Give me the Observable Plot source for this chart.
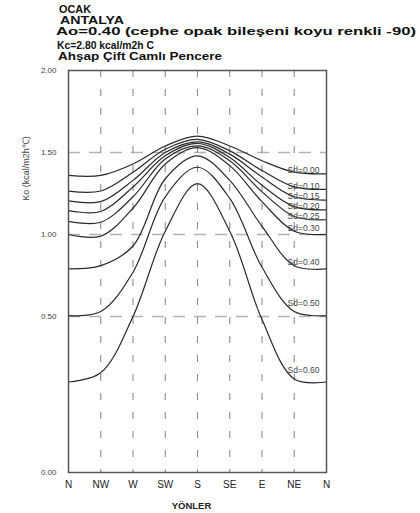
<!DOCTYPE html>
<html><head><meta charset="utf-8">
<script src="https://cdn.jsdelivr.net/npm/d3@7"></script>
<script src="https://cdn.jsdelivr.net/npm/@observablehq/plot@0.6"></script>
<style>
body{margin:0;background:#fff;font-family:"Liberation Sans",Arial,sans-serif;}
#wrap{position:relative;width:420px;height:513px;overflow:hidden;}
#titles{position:absolute;left:0;top:0;}
#chart{position:absolute;left:0;top:62px;}
</style></head><body>
<div id="wrap"><div id="titles"></div><div id="chart"></div></div>
<script>
// ---- data ----
const titleLines = ["OCAK", "ANTALYA", "Ao=0.40 (cephe opak bileşeni koyu renkli -90)", "Kc=2.80 kcal/m2h  C", "Ahşap Çift Camlı Pencere"];
const directions = ["N", "NW", "W", "SW", "S", "SE", "E", "NE", "N"];
const yTicks = [0, 0.5, 1, 1.5, 2];
const gridY = [0.5, 1, 1.5];
const sdNames = ["Sd=0.00", "Sd=0.10", "Sd=0.15", "Sd=0.20", "Sd=0.25", "Sd=0.30", "Sd=0.40", "Sd=0.50", "Sd=0.60"];
const sd000 = [1.36, 1.36, 1.43, 1.54, 1.60, 1.54, 1.45, 1.38, 1.37];
const sd010 = [1.265, 1.265, 1.38, 1.52, 1.58, 1.51, 1.39, 1.29, 1.275];
const sd015 = [1.205, 1.20, 1.33, 1.50, 1.565, 1.49, 1.35, 1.23, 1.21];
const sd020 = [1.146, 1.14, 1.29, 1.48, 1.555, 1.47, 1.30, 1.17, 1.15];
const sd025 = [1.08, 1.075, 1.23, 1.46, 1.54, 1.45, 1.26, 1.11, 1.09];
const sd030 = [1.00, 0.99, 1.16, 1.43, 1.53, 1.42, 1.20, 1.02, 1.00];
const sd040 = [0.79, 0.81, 0.93, 1.34, 1.48, 1.33, 1.05, 0.81, 0.79];
const sd050 = [0.505, 0.53, 0.77, 1.23, 1.41, 1.22, 0.80, 0.53, 0.505];
const sd060 = [0.29, 0.32, 0.50, 1.02, 1.31, 1.02, 0.49, 0.30, 0.29];
const series = [sd000, sd010, sd015, sd020, sd025, sd030, sd040, sd050, sd060];

// ---- titles ----
const tsvg = d3.select("#titles").append("svg").attr("width", 420).attr("height", 62);
const tspec = [
  {x: 59, y: 13.3, size: 10.5, len: 32},
  {x: 60, y: 24, size: 10.5, len: 64},
  {x: 56, y: 35, size: 11.5, len: 360},
  {x: 57, y: 49, size: 10.5, len: 97},
  {x: 58, y: 60, size: 10.5, len: 164}
];
titleLines.forEach((t, i) => {
  const s = tspec[i];
  tsvg.append("text").attr("x", s.x).attr("y", s.y)
    .attr("font-family", "Liberation Sans, Arial, sans-serif")
    .attr("font-weight", "bold").attr("font-size", s.size)
    .attr("fill", "#111")
    .attr("textLength", s.len).attr("lengthAdjust", "spacingAndGlyphs")
    .text(t);
});

// ---- chart ----
// the original axis is drawn with a stretched segment below 0.50
const stretch = 312 / 164;
const ky = v => v >= 0.5 ? v : 0.5 - (0.5 - v) * stretch;

const rows = [];
series.forEach((vals, k) => vals.forEach((v, i) => rows.push({sd: sdNames[k], i, v})));
const ends = series.map((vals, k) => ({sd: sdNames[k], i: vals.length - 1, v: vals[vals.length - 1], k}));

const W = 420, H = 451;
const yTop = 8, yBottom = 410;
const chart = Plot.plot({
  width: W, height: H,
  marginLeft: 68, marginRight: 94, marginTop: yTop, marginBottom: H - yBottom,
  style: {fontFamily: "Liberation Sans, Arial, sans-serif", background: "#fff"},
  x: {domain: [0, 8], axis: null},
  y: {domain: [ky(0), ky(2)], axis: null},
  marks: [
    Plot.ruleY(gridY, {y: ky, stroke: "#b3b3b3", strokeWidth: 1.6, strokeDasharray: "12,9"}),
    Plot.ruleX(d3.range(1, 8), {stroke: "#8c8c8c", strokeWidth: 1.1, strokeDasharray: "7,12"}),
    Plot.line(rows, {x: "i", y: d => ky(d.v), z: "sd", curve: "catmull-rom", stroke: "#2a2a2a", strokeWidth: 1.2}),
    Plot.frame({stroke: "#555", strokeWidth: 1.5}),
    Plot.text(ends.filter(d => d.k < 5), {x: "i", y: d => ky(d.v), text: "sd", dx: -23, dy: -3.5, fontSize: 8.5, fill: "#444", textAnchor: "middle"}),
    Plot.text(ends.filter(d => d.k >= 5 && d.k < 7), {x: "i", y: d => ky(d.v), text: "sd", dx: -23, dy: -6.5, fontSize: 8.5, fill: "#444", textAnchor: "middle"}),
    Plot.text(ends.filter(d => d.k >= 7), {x: "i", y: d => ky(d.v), text: "sd", dx: -23, dy: -12, fontSize: 8.5, fill: "#444", textAnchor: "middle"}),
    Plot.text(d3.range(0, 9), {x: d => d, frameAnchor: "bottom", text: i => directions[i], dy: 15, fontSize: 10, fill: "#222"}),
    Plot.text(yTicks, {y: ky, frameAnchor: "left", text: d3.format(".2f"), dx: -12, textAnchor: "end", fontSize: 8, fill: "#444"}),
    Plot.text(["Ko (kcal/m2h℃)"], {frameAnchor: "top-left", dx: -46, dy: 98, rotate: -90, fontSize: 9, fill: "#444", textAnchor: "middle"}),
    Plot.text(["YÖNLER"], {frameAnchor: "bottom", dx: -6, dy: 36, fontSize: 9.5, fill: "#222", fontWeight: "bold"})
  ]
});
document.getElementById("chart").appendChild(chart);
</script>
</body></html>
